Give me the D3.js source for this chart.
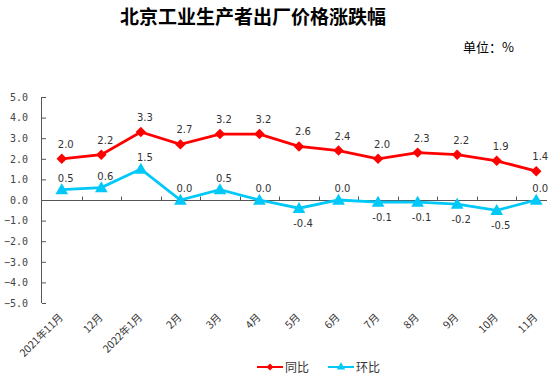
<!DOCTYPE html>
<html><head><meta charset="utf-8">
<script src="https://cdn.jsdelivr.net/npm/d3@7/dist/d3.min.js"></script>
<style>body{margin:0;background:#fff}svg{display:block}</style>
</head><body>
<svg id="c" width="557" height="380"></svg>
<script>
const categories = ["2021年11月","12月","2022年1月","2月","3月","4月","5月","6月","7月","8月","9月","10月","11月"];
const tongbi = [2.0,2.2,3.3,2.7,3.2,3.2,2.6,2.4,2.0,2.3,2.2,1.9,1.4];
const huanbi = [0.5,0.6,1.5,0.0,0.5,0.0,-0.4,0.0,-0.1,-0.1,-0.2,-0.5,0.0];
const yTicks = [5,4,3,2,1,0,-1,-2,-3,-4,-5];
const seriesNames = ["同比","环比"];

const svg = d3.select("#c");
const fontCJK = "'Noto Sans CJK SC', 'DejaVu Sans', sans-serif";
const x = d3.scaleBand().domain(categories).range([42, 556]);
const y = d3.scaleLinear().domain([-5, 5]).range([303, 97]);

svg.append("text").attr("x", 253).attr("y", 24).attr("text-anchor", "middle")
  .attr("font-family", fontCJK).attr("font-weight", "bold").attr("font-size", 19)
  .attr("fill", "#000").text("北京工业生产者出厂价格涨跌幅");
svg.append("text").attr("x", 514).attr("y", 52).attr("text-anchor", "end")
  .attr("font-family", fontCJK).attr("font-size", 13).attr("fill", "#000").text("单位：%");

// y axis
const yAxis = d3.axisLeft(y).tickValues(yTicks).tickSize(-4).tickPadding(14).tickFormat(d3.format(".1f"));
const gy = svg.append("g").attr("transform", "translate(42,0)").call(yAxis);
gy.select(".domain").attr("stroke", "#555").attr("d", `M-0.5,${y(5)}V${y(-5)}`);
gy.selectAll(".tick line").attr("stroke", "#555");
gy.selectAll(".tick text").attr("font-family", "'DejaVu Sans Mono', monospace").attr("font-size", 10).attr("fill", "#444").attr("dx", 0);

// x axis at zero
const gx = svg.append("g").attr("transform", `translate(0,${Math.round(y(0))+0.5})`);
gx.append("line").attr("x1", 42).attr("x2", 547).attr("stroke", "#555");
gx.selectAll("line.t").data(categories.slice(1)).join("line").attr("class", "t")
  .attr("x1", d => Math.round(x(d)) + 0.5).attr("x2", d => Math.round(x(d)) + 0.5)
  .attr("y1", 0).attr("y2", -4).attr("stroke", "#555");

// x labels
svg.append("g").selectAll("text").data(categories).join("text")
  .attr("transform", d => `translate(${x(d) + x.bandwidth()/2 + 2},318) rotate(-45)`)
  .attr("text-anchor", "end").attr("font-family", fontCJK).attr("font-size", 10.5)
  .attr("fill", "#333").text(d => d);

const cx = d => x(d) + x.bandwidth()/2;
const line = d3.line().x((d, i) => cx(categories[i])).y(d => y(d));

const red = "#FF0000", blue = "#00C8F8";
svg.append("path").datum(tongbi).attr("d", line).attr("fill", "none").attr("stroke", red).attr("stroke-width", 2.8);
svg.append("path").datum(huanbi).attr("d", line).attr("fill", "none").attr("stroke", blue).attr("stroke-width", 2.8);

const diamond = d3.symbol().type(d3.symbolDiamond2).size(70);
const tri = d3.symbol().type(d3.symbolTriangle).size(70);
svg.append("g").selectAll("path").data(tongbi).join("path")
  .attr("transform", (d, i) => `translate(${cx(categories[i])},${y(d)})`)
  .attr("d", diamond).attr("fill", red);
svg.append("g").selectAll("path").data(huanbi).join("path")
  .attr("transform", (d, i) => `translate(${cx(categories[i])},${y(d)+1})`)
  .attr("d", tri).attr("fill", blue);

// data labels
svg.append("g").selectAll("text").data(tongbi).join("text")
  .attr("x", (d, i) => cx(categories[i]) + 4).attr("y", d => y(d) - 11)
  .attr("text-anchor", "middle").attr("font-family", "'DejaVu Sans', sans-serif").attr("font-size", 10)
  .attr("fill", "#333").text(d => d.toFixed(1));
svg.append("g").selectAll("text").data(huanbi).join("text")
  .attr("x", (d, i) => cx(categories[i]) + 4).attr("y", d => d < 0 ? y(d) + 19 : y(d) - 8)
  .attr("text-anchor", "middle").attr("font-family", "'DejaVu Sans', sans-serif").attr("font-size", 10)
  .attr("fill", "#333").text(d => d.toFixed(1));

// legend
const leg = svg.append("g").attr("transform", "translate(0,367)");
[[seriesNames[0], red, diamond, 257], [seriesNames[1], blue, tri, 328]].forEach(([name, col, sym, lx]) => {
  leg.append("line").attr("x1", lx).attr("x2", lx + 26).attr("y1", 0).attr("y2", 0).attr("stroke", col).attr("stroke-width", 2);
  leg.append("path").attr("d", sym.size(30)()).attr("transform", `translate(${lx + 13},0)`).attr("fill", col);
  leg.append("text").attr("x", lx + 28).attr("y", 4.5).attr("font-family", fontCJK).attr("font-size", 12)
    .attr("fill", "#333").text(name);
});
</script>
</body></html>
